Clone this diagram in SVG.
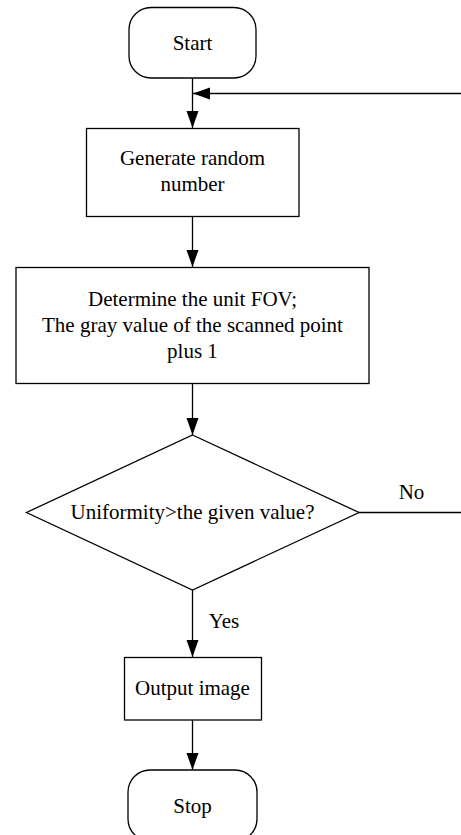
<svg xmlns="http://www.w3.org/2000/svg" width="461" height="835" viewBox="0 0 461 835">
<style>
.s{fill:#fff;stroke:#000;stroke-width:1.3}
.l{fill:none;stroke:#000;stroke-width:1.3}
text{font-family:"Liberation Serif","Times New Roman",serif;font-size:21px;fill:#000;text-anchor:middle}
</style>
<defs>
<marker id="a" markerUnits="userSpaceOnUse" markerWidth="18" markerHeight="14" viewBox="0 0 18 14" refX="17" refY="7" orient="auto">
<path d="M0,1 L17,7 L0,13 Z" fill="#000"/>
</marker>
</defs>
<g id="connectors">
<path class="l" d="M192.5,78 V128" marker-end="url(#a)"/>
<path class="l" d="M461,93.5 H193" marker-end="url(#a)"/>
<path class="l" d="M192.5,217 V267" marker-end="url(#a)"/>
<path class="l" d="M192.5,383.5 V435" marker-end="url(#a)"/>
<path class="l" d="M359,512.5 H461"/>
<path class="l" d="M192.5,590 V657" marker-end="url(#a)"/>
<path class="l" d="M192.5,720 V770" marker-end="url(#a)"/>
<text x="411.5" y="499">No</text>
<text x="224" y="628">Yes</text>
</g>
<g id="start">
<rect class="s" x="129" y="7.5" width="127" height="70.5" rx="22"/>
<text x="192.5" y="50">Start</text>
</g>
<g id="generate">
<rect class="s" x="86.5" y="128.5" width="212.5" height="88"/>
<text x="192.5" y="165">Generate random</text>
<text x="192.5" y="191">number</text>
</g>
<g id="determine">
<rect class="s" x="16" y="267.5" width="353" height="116"/>
<text x="192.5" y="306">Determine the unit FOV;</text>
<text x="192.5" y="332">The gray value of the scanned point</text>
<text x="192.5" y="357.5">plus 1</text>
</g>
<g id="decision">
<polygon class="s" points="192.5,435 359,512.5 192.5,590 26.5,512.5"/>
<text x="192.5" y="519">Uniformity&gt;the given value?</text>
</g>
<g id="output">
<rect class="s" x="124.5" y="657.5" width="137" height="62.5"/>
<text x="192.5" y="695">Output image</text>
</g>
<g id="stop">
<rect class="s" x="128" y="770" width="129" height="71" rx="22"/>
<text x="192.5" y="813">Stop</text>
</g>
</svg>
